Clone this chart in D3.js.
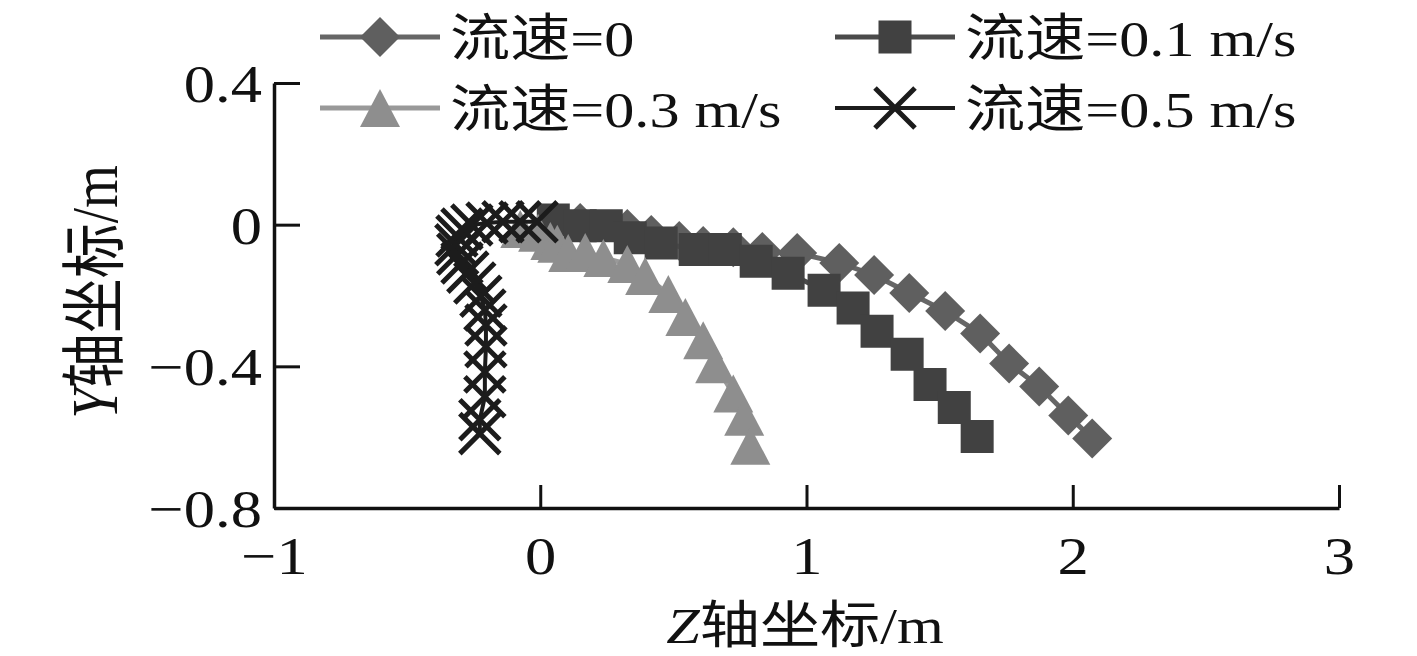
<!DOCTYPE html>
<html lang="zh">
<meta charset="utf-8">
<script src="https://cdn.jsdelivr.net/npm/d3@7"></script>
<style>
body { margin: 0; background: #fff; }
text { font-family: "Liberation Serif", "Times New Roman", "Noto Sans CJK SC", serif; fill: #111; }
</style>
<body>
<script>
// values: Z (m) and Y (m) per flow speed
var names = ["流速=0", "流速=0.1 m/s", "流速=0.3 m/s", "流速=0.5 m/s"];

var z0 = [0.15, 0.327, 0.417, 0.522, 0.612, 0.725, 0.834, 0.965, 1.123, 1.254, 1.386, 1.521, 1.652, 1.761, 1.874, 1.983, 2.073];
var y0 = [0.005, -0.012, -0.029, -0.046, -0.060, -0.064, -0.077, -0.080, -0.108, -0.142, -0.193, -0.244, -0.307, -0.392, -0.457, -0.539, -0.604];

var z1 = [0.049, 0.15, 0.248, 0.338, 0.454, 0.582, 0.695, 0.811, 0.931, 1.066, 1.175, 1.265, 1.378, 1.464, 1.555, 1.641];
var y1 = [0.013, -0.003, -0.003, -0.037, -0.052, -0.070, -0.070, -0.103, -0.137, -0.185, -0.235, -0.301, -0.366, -0.451, -0.516, -0.598];

var z3 = [-0.075, -0.008, 0.038, 0.064, 0.105, 0.169, 0.237, 0.327, 0.394, 0.481, 0.545, 0.612, 0.657, 0.725, 0.766, 0.789];
var y3 = [-0.012, -0.023, -0.046, -0.054, -0.080, -0.077, -0.094, -0.111, -0.145, -0.196, -0.261, -0.326, -0.394, -0.477, -0.542, -0.624];

var z5 = [-0.012, -0.076, -0.140, -0.200, -0.257, -0.294, -0.313, -0.317, -0.310, -0.294, -0.272, -0.246, -0.223, -0.208, -0.204, -0.204, -0.208, -0.208, -0.227, -0.227];
var y5 = [0.008, 0.008, 0.008, 0.005, -0.001, -0.012, -0.032, -0.057, -0.083, -0.108, -0.134, -0.165, -0.202, -0.241, -0.283, -0.345, -0.416, -0.486, -0.551, -0.590];

var xTicks = [-1, 0, 1, 2, 3];
var yTicks = [0.4, 0, -0.4, -0.8];

var W = 1417, H = 656;
var sx = 1.18; // picture is stretched sideways

var svg = d3.select("body").append("svg")
    .attr("width", W)
    .attr("height", H);

var x = d3.scaleLinear().domain([-1, 3]).range([274, 1339]);
var y = d3.scaleLinear().domain([-0.8, 0.4]).range([508, 83]);

// axes, ticks pointing inward
var gx = svg.append("g")
    .attr("transform", "translate(0,508)")
    .call(d3.axisBottom(x).tickValues(xTicks).tickSizeInner(-23).tickSizeOuter(0).tickFormat(d3.format("")));
var gy = svg.append("g")
    .attr("transform", "translate(274,0)")
    .call(d3.axisLeft(y).tickValues(yTicks).tickSizeInner(-26).tickSizeOuter(0).tickFormat(d3.format("")));

[gx, gy].forEach(function(g){
    g.attr("font-family", null).attr("font-size", null);
    g.select(".domain").attr("stroke", "#111").attr("stroke-width", 3.5);
    g.selectAll(".tick line").attr("stroke", "#111").attr("stroke-width", 3);
});
gx.selectAll(".tick text")
    .attr("y", 66).attr("dy", null)
    .style("font-size", "53px")
    .attr("transform", "scale(" + sx + ",1)");
gy.selectAll(".tick text")
    .attr("x", -12 / sx).attr("dy", "0.35em")
    .style("font-size", "53px")
    .attr("transform", "scale(" + sx + ",1)");

// axis titles
var xt = svg.append("text")
    .attr("transform", "translate(805,643) scale(" + sx + ",1)")
    .attr("text-anchor", "middle")
    .style("font-size", "51px");
xt.append("tspan").style("font-style", "italic").text("Z");
xt.append("tspan").text("轴坐标/m");

var yt = svg.append("text")
    .attr("transform", "translate(117,292) rotate(-90) scale(1," + sx + ")")
    .attr("text-anchor", "middle")
    .style("font-size", "55px");
yt.append("tspan").style("font-style", "italic").text("Y");
yt.append("tspan").text("轴坐标/m");

// markers
var diamond = "M0,-20L20,0L0,20L-20,0Z";
var square = "M-16.5,-16.5H16.5V16.5H-16.5Z";
var triangle = "M0,-19L20,19L-20,19Z";
var cross = "M-20,-20L20,20M-20,20L20,-20";

var series = [
    {z: z0, y: y0, fill: "#5f5f5f", line: "#666666", lw: 5, shape: diamond},
    {z: z1, y: y1, fill: "#414141", line: "#4a4a4a", lw: 5, shape: square},
    {z: z3, y: y3, fill: "#8e8e8e", line: "#999999", lw: 5, shape: triangle},
    {z: z5, y: y5, fill: "none", line: "#1c1c1c", lw: 4, shape: cross, stroke: true}
];

var line = d3.line()
    .x(function(d){ return x(d[0]); })
    .y(function(d){ return y(d[1]); });

function drawMarker(g, s){
    var p = g.append("path").attr("d", s.shape);
    if (s.stroke) p.attr("fill", "none").attr("stroke", s.line).attr("stroke-width", 5);
    else p.attr("fill", s.fill);
}

series.forEach(function(s){
    var pts = s.z.map(function(v, i){ return [v, s.y[i]]; });
    svg.append("path")
        .attr("d", line(pts))
        .attr("fill", "none")
        .attr("stroke", s.line)
        .attr("stroke-width", s.lw);
    pts.forEach(function(p){
        var g = svg.append("g").attr("transform", "translate(" + x(p[0]) + "," + y(p[1]) + ")");
        drawMarker(g, s);
    });
});

// legend, two columns and two rows
var legPos = [[320, 37], [835, 37], [320, 108], [835, 108]];
series.forEach(function(s, i){
    var lx = legPos[i][0], ly = legPos[i][1];
    svg.append("line")
        .attr("x1", lx).attr("x2", lx + 120)
        .attr("y1", ly).attr("y2", ly)
        .attr("stroke", s.line).attr("stroke-width", s.lw);
    drawMarker(svg.append("g").attr("transform", "translate(" + (lx + 60) + "," + ly + ")"), s);
    svg.append("text")
        .attr("transform", "translate(" + (lx + 130) + "," + (ly + 19) + ") scale(" + sx + ",1)")
        .style("font-size", "51px")
        .text(names[i]);
});
</script>
</body>
</html>
